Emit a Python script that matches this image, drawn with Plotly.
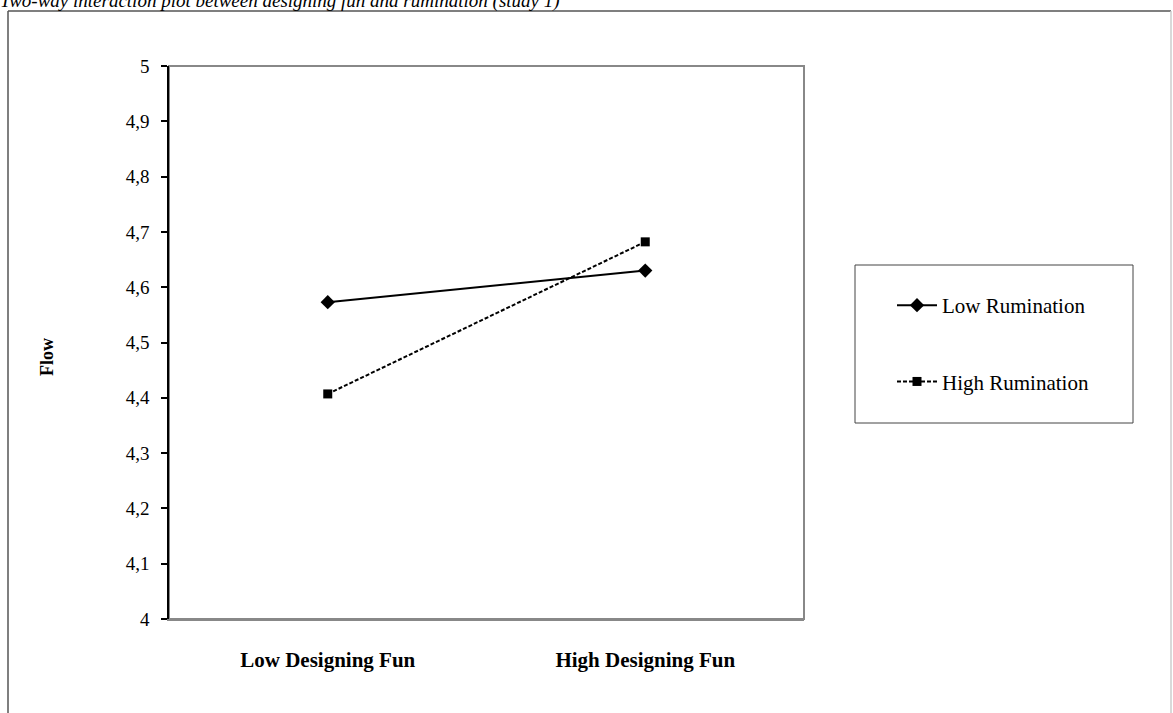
import plotly.graph_objects as go

categories = ["Low Designing Fun", "High Designing Fun"]
low_rumination = [4.573, 4.630]
high_rumination = [4.407, 4.682]
series_names = ["Low Rumination", "High Rumination"]
y_ticks = [4.0, 4.1, 4.2, 4.3, 4.4, 4.5, 4.6, 4.7, 4.8, 4.9, 5.0]
title_text = "Two-way interaction plot between designing fun and rumination (study 1)"
y_title = "Flow"

W, H = 1173, 713
L, R, T, B = 169, 804, 66, 619
FONT = "Liberation Serif, Times New Roman, serif"

def px(x):
    return (x - L) / (R - L)

def py(y):
    return (B - y) / (B - T)

fig = go.Figure()
fig.add_trace(go.Scatter(
    x=categories, y=low_rumination, name=series_names[0], mode="lines+markers",
    line=dict(color="black", width=2), marker=dict(symbol="diamond", size=11, color="black"),
    legendgroup="a"))
fig.add_trace(go.Scatter(
    x=categories, y=high_rumination, name=series_names[1], mode="lines+markers",
    line=dict(color="black", width=2, dash="4px,2px"), marker=dict(symbol="square", size=9, color="black"),
    legendgroup="b"))

shapes = [
    # outer frame
    dict(type="line", xref="paper", yref="paper", x0=px(8), x1=px(8), y0=py(11), y1=py(730),
         line=dict(color="#555", width=1.5)),
    dict(type="line", xref="paper", yref="paper", x0=px(8), x1=px(1171), y0=py(11), y1=py(11),
         line=dict(color="#555", width=1.5)),
    dict(type="line", xref="paper", yref="paper", x0=px(1171), x1=px(1171), y0=py(11), y1=py(730),
         line=dict(color="#ccc", width=1.5)),
    # plot area border
    dict(type="rect", xref="paper", yref="paper", x0=0, x1=1, y0=0, y1=1,
         line=dict(color="#888", width=2), layer="below"),
    # legend box
    dict(type="rect", xref="paper", yref="paper", x0=px(855), x1=px(1133), y0=py(423), y1=py(265),
         line=dict(color="#444", width=1)),
]

fig.update_layout(
    width=W, height=H,
    margin=dict(l=L, r=W - R, t=T, b=H - B),
    paper_bgcolor="white", plot_bgcolor="white",
    separators=",.",
    font=dict(family=FONT, color="black", size=19),
    shapes=shapes,
    showlegend=True,
    legend=dict(x=px(892), y=py(285), xanchor="left", yanchor="top",
                traceorder="grouped", tracegroupgap=46, itemwidth=40,
                font=dict(family=FONT, size=21, color="black"),
                bgcolor="rgba(0,0,0,0)", borderwidth=0),
    annotations=[
        dict(text="<i>%s</i>" % title_text,
             xref="paper", yref="paper", x=px(-2), y=py(1), xanchor="left", yanchor="middle",
             showarrow=False, font=dict(family=FONT, size=19, color="black")),
        dict(text="<b>%s</b>" % y_title, xref="paper", yref="paper", x=px(47), y=py(357),
             xanchor="center", yanchor="middle", showarrow=False, textangle=-90,
             font=dict(family=FONT, size=18, color="black")),
    ],
)

fig.update_xaxes(type="category", range=[-0.5, 1.5], showgrid=False, zeroline=False,
                 showline=True, linecolor="#888", linewidth=2, ticks="",
                 tickfont=dict(family=FONT, size=21, color="black"),
                 tickvals=categories, ticktext=["<b>%s</b>" % c for c in categories],
                 ticklabelstandoff=21)
fig.update_yaxes(range=[4, 5], tickvals=y_ticks, showgrid=False, zeroline=False,
                 showline=True, linecolor="black", linewidth=1.5,
                 ticks="outside", ticklen=6, tickcolor="black", tickwidth=1.5,
                 tickfont=dict(family=FONT, size=19, color="black"),
                 ticklabelstandoff=8)

fig.write_html("out.html", config={"displayModeBar": False},
               post_script="document.body.style.margin='0';")
